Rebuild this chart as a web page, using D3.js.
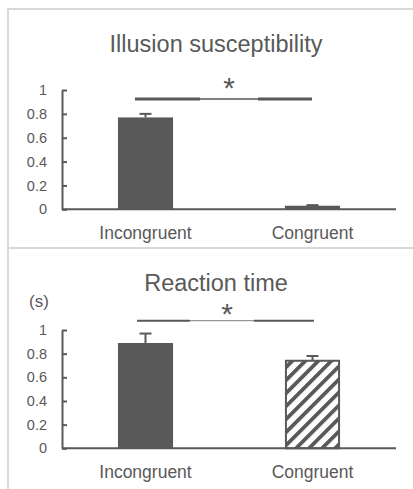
<!DOCTYPE html>
<html><head><meta charset="utf-8">
<script src="https://cdn.jsdelivr.net/npm/d3@7"></script>
<style>body{margin:0;background:#fff}svg{display:block}text{font-family:"Liberation Sans",Arial,sans-serif;fill:#595959}</style>
</head><body>
<svg id="c" width="413" height="489"></svg>
<script>
const categories = ["Incongruent", "Congruent"];
const illusionValues = [0.77, 0.03];
const illusionErrors = [0.03, 0.005];
const rtValues = [0.89, 0.74];
const rtErrors = [0.08, 0.04];
const yTicks = [0, 0.2, 0.4, 0.6, 0.8, 1];
const titles = ["Illusion susceptibility", "Reaction time"];

const svg = d3.select("#c");
const C = "#595959", G = "#d9d9d9";

// pattern
const defs = svg.append("defs");
const pat = defs.append("pattern").attr("id","hatch").attr("patternUnits","userSpaceOnUse")
  .attr("width",9.2).attr("height",9.2).attr("patternTransform","rotate(45)");
pat.append("rect").attr("width",9.2).attr("height",9.2).attr("fill","#fff");
pat.append("rect").attr("x",0).attr("width",3.8).attr("height",9.2).attr("fill",C);

// panel borders
svg.append("line").attr("x1",8).attr("x2",413).attr("y1",9).attr("y2",9).attr("stroke",G).attr("stroke-width",2);
svg.append("line").attr("x1",8).attr("x2",8).attr("y1",8).attr("y2",489).attr("stroke",G).attr("stroke-width",2);
svg.append("line").attr("x1",8).attr("x2",413).attr("y1",248).attr("y2",248).attr("stroke",G).attr("stroke-width",2);

const x = d3.scaleBand().domain(categories).range([62,396]).paddingInner(0.67).paddingOuter(0.335);

function panel(opt){
  const y = d3.scaleLinear().domain([0,1]).range([opt.y0, opt.y1]);
  const g = svg.append("g");
  g.append("text").attr("x",216).attr("y",opt.titleY).attr("text-anchor","middle")
    .style("font-size","23.5px").text(opt.title);
  // y axis
  const ax = g.append("g").attr("transform","translate(62,0)")
    .call(d3.axisLeft(y).tickValues(yTicks).tickFormat(d3.format("~g")).tickSizeInner(-5).tickSizeOuter(0).tickPadding(15));
  ax.select(".domain").attr("stroke",C).attr("stroke-width",2);
  ax.selectAll(".tick line").attr("stroke",C).attr("stroke-width",2);
  ax.selectAll(".tick text").attr("fill",C).style("font-size","14.5px")
    .style("font-family","Liberation Sans, Arial, sans-serif");
  // bars
  g.selectAll(".bar").data(categories).join("rect")
    .attr("x",d=>x(d)+(opt.hatch&&d==="Congruent"?1:0))
    .attr("width",d=>x.bandwidth()-(opt.hatch&&d==="Congruent"?2:0))
    .attr("y",(d,i)=>y(opt.values[i]))
    .attr("height",(d,i)=>y(0)-y(opt.values[i]))
    .attr("fill",(d,i)=>opt.hatch&&i===1?"url(#hatch)":C)
    .attr("stroke",(d,i)=>opt.hatch&&i===1?C:"none")
    .attr("stroke-width",2);
  // error bars
  g.selectAll(".err").data(categories).join("line")
    .attr("x1",d=>x(d)+x.bandwidth()/2).attr("x2",d=>x(d)+x.bandwidth()/2)
    .attr("y1",(d,i)=>y(opt.values[i])).attr("y2",(d,i)=>y(opt.values[i]+opt.errors[i]))
    .attr("stroke",C).attr("stroke-width",2);
  g.selectAll(".cap").data(categories).join("line")
    .attr("x1",d=>x(d)+x.bandwidth()/2-6).attr("x2",d=>x(d)+x.bandwidth()/2+6)
    .attr("y1",(d,i)=>y(opt.values[i]+opt.errors[i])).attr("y2",(d,i)=>y(opt.values[i]+opt.errors[i]))
    .attr("stroke",C).attr("stroke-width",2);
  // x axis
  g.append("line").attr("x1",62).attr("x2",396).attr("y1",y(0)).attr("y2",y(0)).attr("stroke",C).attr("stroke-width",2);
  g.selectAll(".xl").data(categories).join("text")
    .attr("x",d=>x(d)+x.bandwidth()/2).attr("y",opt.labelY).attr("text-anchor","middle")
    .style("font-size","17.5px").text(d=>d);
  // significance
  const s = opt.sig;
  g.append("line").attr("x1",s[0]).attr("x2",s[1]).attr("y1",s[4]).attr("y2",s[4]).attr("stroke",C).attr("stroke-width",opt.sigW);
  g.append("line").attr("x1",s[1]).attr("x2",s[2]).attr("y1",s[4]).attr("y2",s[4]).attr("stroke","#7f7f7f").attr("stroke-width",opt.sigW-1);
  g.append("line").attr("x1",s[2]).attr("x2",s[3]).attr("y1",s[4]).attr("y2",s[4]).attr("stroke",C).attr("stroke-width",opt.sigW);
  g.append("text").attr("x",opt.starX).attr("y",opt.starY).attr("text-anchor","middle")
    .style("font-size","30px").text("*");
  return g;
}

panel({title:titles[0], titleY:52, y0:209.3, y1:90, values:illusionValues, errors:illusionErrors,
  labelY:239, sig:[135,200,258,312,99], sigW:3, starX:229, starY:98, hatch:false});
const p2 = panel({title:titles[1], titleY:291, y0:448.3, y1:330, values:rtValues, errors:rtErrors,
  labelY:478, sig:[137,190,254,314,320.7], sigW:2, starX:227, starY:324, hatch:true});
p2.append("text").attr("x",39).attr("y",306.5).attr("text-anchor","middle").style("font-size","17px").text("(s)");
</script>
</body></html>
